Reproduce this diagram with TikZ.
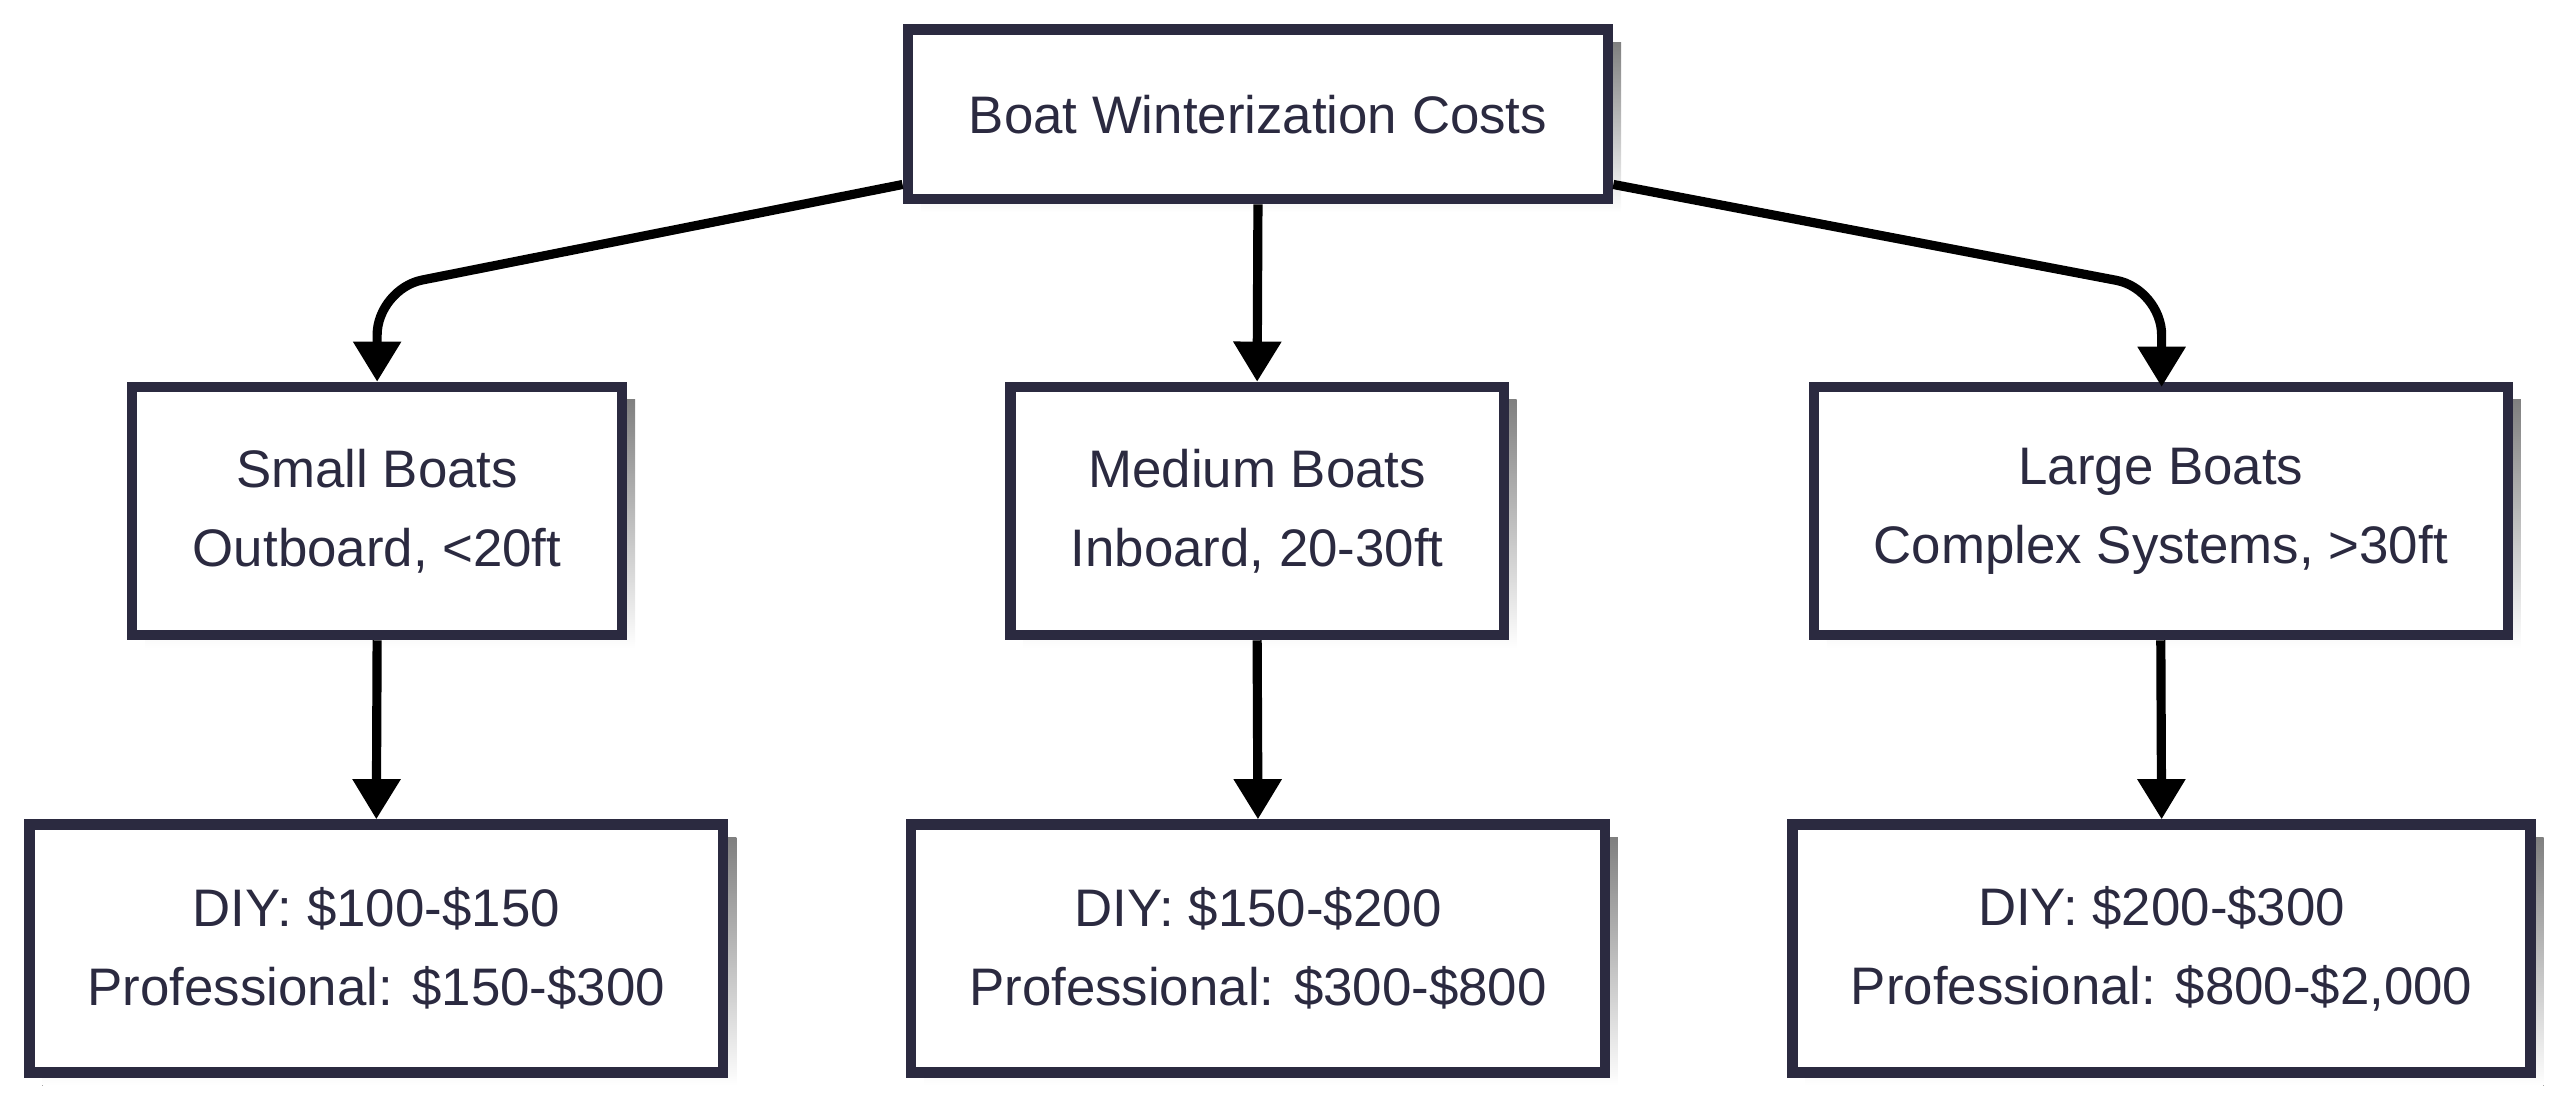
\documentclass[tikz,border=0pt]{standalone}
\usepackage{fontspec}
\setmainfont{Liberation Sans}
\usetikzlibrary{arrows.meta,calc}
\definecolor{ink}{HTML}{2B2A40}
\definecolor{shade}{HTML}{E8E8E8}
\tikzset{
	box/.style={draw=ink, line width=1.8pt, fill=white, text=ink, align=center, inner sep=0pt,
		font=\fontsize{9.2}{13.8}\selectfont},
	link/.style={line width=1.6pt, -{Triangle[length=7pt,width=8pt]}, rounded corners=8pt}
}
\newcommand{\boatbox}[6]{% name, x1, y1, x2, y2, text
	\fill[shade] (#2+8,-#3-8) rectangle (#4+8,-#5-8);
	\node[box, minimum width=#4*0.01cm-#2*0.01cm, minimum height=#5*0.01cm-#3*0.01cm] (#1) at ({(#2+#4)/2},{-(#3+#5)/2}) {#6};
}

\begin{document}
\begin{tikzpicture}[x=0.01cm,y=0.01cm]
	\useasboundingbox (0,0) rectangle (1568,-679);
	\boatbox{root}{556}{18}{985}{122}{Boat Winterization Costs}
	\boatbox{small}{81}{237}{381}{389}{Small Boats\\Outboard, <20ft}
	\boatbox{medium}{619}{237}{921}{389}{Medium Boats\\Inboard, 20-30ft}
	\boatbox{large}{1111}{237}{1536}{389}{Large Boats\\Complex Systems, >30ft}
	\boatbox{smallcost}{18}{505}{443}{657}{DIY: \$100-\$150\\Professional: \$150-\$300}
	\boatbox{mediumcost}{558}{505}{983}{657}{DIY: \$150-\$200\\Professional: \$300-\$800}
	\boatbox{largecost}{1098}{505}{1550}{657}{DIY: \$200-\$300\\Professional: \$800-\$2,000}
	
	\draw[link] ($(root.west)+(0,-43)$) -- (231,-177) -- (small.north);
	\draw[link] (root.south) -- (medium.north);
	\draw[link] ($(root.east)+(0,-43)$) -- (1324,-177) -- (1324,-237);
	\draw[link] (small.south) -- (smallcost.north);
	\draw[link] (medium.south) -- (mediumcost.north);
	\draw[link] (large.south) -- (largecost.north);
\end{tikzpicture}
\end{document}
